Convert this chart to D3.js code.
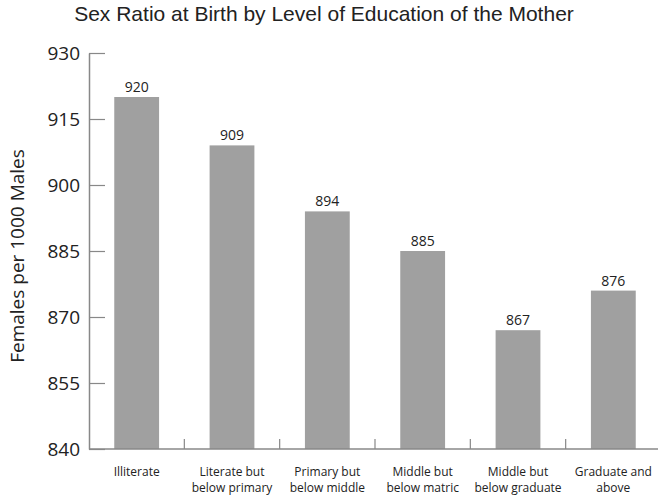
<!DOCTYPE html>
<html>
<head>
<meta charset="utf-8">
<script src="https://cdn.jsdelivr.net/npm/d3@7"></script>
<style>
  html, body { margin: 0; padding: 0; background: #fff; }
  svg { display: block; }
</style>
</head>
<body>
<svg id="chart" width="658" height="496"></svg>
<script>
// Education levels (two-line labels) and sex ratio values
const categories = [
  ["Illiterate"],
  ["Literate but", "below primary"],
  ["Primary but", "below middle"],
  ["Middle but", "below matric"],
  ["Middle but", "below graduate"],
  ["Graduate and", "above"]
];
const values = [920, 909, 894, 885, 867, 876];
const yTicks = [840, 855, 870, 885, 900, 915, 930];

(function draw() {
  const svg = d3.select("#chart");
  const plotLeft = 89, plotRight = 661, plotTop = 53, plotBottom = 449;
  const labelFont = "'Open Sans', 'Noto Sans', sans-serif";

  const x = d3.scaleBand()
    .domain(d3.range(categories.length))
    .range([plotLeft, plotRight])
    .paddingInner(0.53)
    .paddingOuter(0.265);

  const y = d3.scaleLinear().domain([840, 930]).range([plotBottom, plotTop]);

  // Title
  svg.append("text")
    .attr("x", 324).attr("y", 21)
    .attr("text-anchor", "middle")
    .attr("font-family", "'Liberation Sans', Arial, sans-serif")
    .attr("font-size", 21)
    .attr("fill", "#222")
    .text("Sex Ratio at Birth by Level of Education of the Mother");

  // Bars
  svg.append("g").selectAll("rect")
    .data(values)
    .join("rect")
    .attr("x", (d, i) => x(i))
    .attr("y", d => y(d))
    .attr("width", x.bandwidth())
    .attr("height", d => y(840) - y(d))
    .attr("fill", "#a0a0a0");

  // Value labels
  svg.append("g").selectAll("text")
    .data(values)
    .join("text")
    .attr("x", (d, i) => x(i) + x.bandwidth() / 2)
    .attr("y", d => y(d) - 5)
    .attr("text-anchor", "middle")
    .attr("font-family", labelFont)
    .attr("font-size", 14)
    .attr("fill", "#222")
    .text(d => d);

  // Y axis with inward ticks
  const yAxis = svg.append("g")
    .attr("transform", `translate(${plotLeft},0)`)
    .call(d3.axisLeft(y).tickValues(yTicks).tickSizeInner(-16).tickSizeOuter(0).tickPadding(9));
  yAxis.select(".domain").attr("stroke", "#888").attr("stroke-width", 1.5);
  yAxis.selectAll(".tick line").attr("stroke", "#888").attr("stroke-width", 1.2);
  yAxis.selectAll(".tick text")
    .attr("font-family", labelFont)
    .attr("font-size", 19)
    .attr("fill", "#222");

  // X axis with band-edge ticks pointing up
  const xAxisG = svg.append("g").attr("transform", `translate(0,${plotBottom})`);
  xAxisG.append("line")
    .attr("x1", plotLeft).attr("x2", plotRight)
    .attr("stroke", "#888").attr("stroke-width", 1.5);
  const step = x.step();
  const edges = d3.range(1, categories.length).map(i => x(i) - x.paddingInner() * step / 2);
  xAxisG.selectAll(".edge")
    .data(edges)
    .join("line")
    .attr("class", "edge")
    .attr("x1", d => d).attr("x2", d => d)
    .attr("y1", 0).attr("y2", -10)
    .attr("stroke", "#888").attr("stroke-width", 1.2);

  // Category labels
  const catText = svg.append("g").selectAll("text")
    .data(categories)
    .join("text")
    .attr("text-anchor", "middle")
    .attr("font-family", labelFont)
    .attr("font-size", 12)
    .attr("fill", "#222")
    .attr("transform", (d, i) => `translate(${x(i) + x.bandwidth() / 2},${plotBottom + 27})`);
  catText.selectAll("tspan")
    .data(d => d)
    .join("tspan")
    .attr("x", 0)
    .attr("dy", (d, j) => j === 0 ? 0 : 16)
    .text(d => d);

  // Y axis title
  svg.append("text")
    .attr("transform", "translate(24,256) rotate(-90)")
    .attr("text-anchor", "middle")
    .attr("font-family", labelFont)
    .attr("font-size", 19)
    .attr("fill", "#222")
    .text("Females per 1000 Males");
})();
</script>
</body>
</html>
